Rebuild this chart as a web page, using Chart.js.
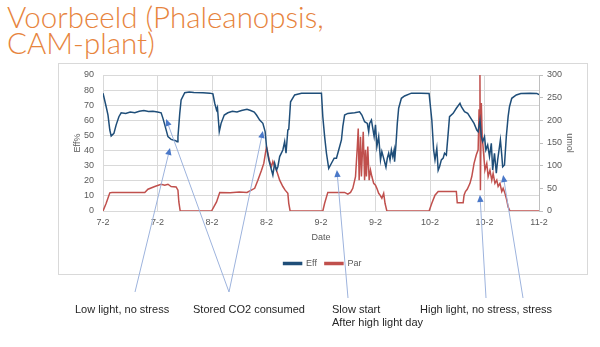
<!DOCTYPE html>
<html><head><meta charset="utf-8">
<script src="https://cdn.jsdelivr.net/npm/chart.js@4"></script>
<style>
html,body{margin:0;padding:0;background:#fff;}
#wrap{position:relative;width:600px;height:347px;overflow:hidden;font-family:"Liberation Sans",Arial,sans-serif;}
#title{position:absolute;left:7px;top:4px;font-family:Lato,"Liberation Sans",sans-serif;font-weight:300;font-size:29.5px;line-height:26px;color:#e7843d;white-space:nowrap;}
#frame{position:absolute;left:58px;top:63px;width:528px;height:210px;border:1px solid #d9d9d9;}
canvas{position:absolute;left:0;top:0;}
.note{position:absolute;font-size:11px;line-height:13px;color:#262626;white-space:nowrap;}
</style></head>
<body><div id="wrap">
<div id="title">Voorbeeld (Phaleanopsis,<br>CAM-plant)</div>
<div id="frame"></div>
<canvas id="c" width="600" height="347"></canvas>
<div class="note" style="left:75px;top:303px">Low light, no stress</div>
<div class="note" style="left:193px;top:303px">Stored CO2 consumed</div>
<div class="note" style="left:332px;top:303px">Slow start<br>After high light day</div>
<div class="note" style="left:420px;top:303px">High light, no stress, stress</div>
</div>
<script>
// ---- data ----
const dateLabels = ["7-2","7-2","8-2","8-2","9-2","9-2","10-2","10-2","11-2"]; // every 12 h
const effHours = [0,0.7,1.1,1.5,1.8,2.4,2.9,3.5,4,5,6,7,8,9,10,11,12,12.8,13.2,13.6,14.3,15,16,16.3,16.5,16.9,17.2,18,19,20,22,23.5,24.2,
 24.6,25,25.2,25.6,26,26.7,27.5,28.5,29.5,30.5,31.7,32.5,33.3,33.8,34.5,35.2,35.7,36,36.5,37.1,37.4,37.8,38.2,38.5,38.9,39.6,40,40.3,40.7,40.9,41.3,42.2,43.7,46,48.1,
 48.4,48.8,49.2,49.7,50.3,50.9,51.4,51.9,52.5,52.8,53.2,53.9,55.4,56.5,57,57.6,58.2,58.5,58.7,59.1,59.4,59.7,60,60.3,60.7,61.1,61.4,61.7,62,62.3,62.6,62.9,63.2,63.5,63.8,64.1,64.2,64.5,64.8,65.1,65.7,66.4,67.9,70,71.8,
 72.4,72.8,73.1,73.5,73.8,74.1,74.5,74.9,75.2,75.6,76,76.3,77.1,77.8,78.6,78.9,79.6,80.3,81,81.7,82.3,82.6,83,83.3,83.6,84,84.3,84.7,85.1,85.5,85.8,86.2,86.6,86.9,87.3,87.5,87.8,88,88.4,88.8,89.2,89.5,90,91,92,94,95.5,96];
const effValues = [78,69,63.5,53.6,49.6,51.4,57,62.4,65,64.5,65.5,65,66,66.5,65.8,66,65.5,65,61.3,57,49.2,47.4,46.5,45.9,49,64.6,73.5,78.3,78.8,78.5,78.3,78,77.5,
 71.3,66.8,68.5,52.5,58,63.5,65,66,65.5,66.5,67.3,66.5,65.5,63.5,60.2,58,52.5,42.6,33.8,27.1,23.8,31.6,27.1,29.3,36,40.4,45.9,38.2,53.6,54,72.3,76.8,77.9,78,78,
 62.4,49.2,38.2,28.2,31.6,34.9,34.9,40.4,47,55.8,63.5,64.6,65,65.7,63.5,59.1,58,52.5,58,60.2,54.7,49.2,57,42.6,49.2,33.8,39.3,36,32.6,29,35,38.2,33.8,40.4,36,40.4,32.6,43.7,58,68,74.6,76.1,78,78,77.8,
 60.2,40.4,33.8,41.5,27,29.3,33.8,35,38.2,37,51.4,62.4,64.6,68,71.3,69,65.7,64.6,61.3,58,53.6,52.5,60.2,49.2,45.9,49.2,40.4,43.7,36,44.8,27.1,38.2,25,33.8,42.6,47,37,29.3,30.5,49.2,62.4,69,74.6,76.8,77.8,77.9,77.8,77];
const parHours = [0,0.7,1.5,2,9.2,9.9,11.4,12.8,13.6,14.3,15,16.1,16.5,16.7,17,23.9,
 25,25.7,28,30,31.7,33.4,34.1,34.9,35.4,36,36.3,36.7,37.1,37.4,37.8,38.2,38.9,39.6,40.1,40.7,40.9,41.2,48.4,
 48.8,49.5,53.2,53.9,54.5,55,55.6,56,56.2,56.4,56.7,56.9,57.3,57.6,57.8,58,58.3,58.6,58.9,59.2,59.6,60,60.3,60.7,61,61.4,61.8,62.1,62.5,71.8,
 72.4,73.1,73.8,77.8,78,79.3,79.5,79.8,80.2,80.8,81.2,81.7,82.2,82.6,82.8,83,83.1,83.3,83.5,83.8,84.1,84.5,84.8,85.2,85.6,85.9,86.3,86.7,87,87.4,87.8,88.1,88.5,88.9,89.2,89.6,96];
const parValues = [0,17,40,41,41,48,54,59,57,59,54,53,46,20,0,0,
 20,41,40,42,41,50,68,90,105,142,127,109,98,109,98,90,68,54,46,39,17,0,0,
 17,41,41,37,41,50,76,142,182,68,164,76,175,68,135,76,142,68,90,76,61,57,50,39,35,28,39,17,0,0,
 17,35,43,43,18,18,35,43,48,61,76,105,124,135,223,300,46,238,164,127,90,105,76,90,68,83,61,68,54,61,43,50,39,24,9,0,0];
const effTicks = [0,90,10];   // min, max, step
const parTicks = [0,300,50];
// annotation arrows: tails in page pixels, tips in data units (hours, Eff%)
const arrowTailX = [135,229,229,348,486,523];
const arrowTailY = [292,292,292,298,298,298];
const arrowTipHour = [14.75,13.9,35.2,51.5,83.0,88.1];
const arrowTipEff = [41.7,60.9,52.9,27.1,10.6,23.8];

const toXY = (xs, ys) => xs.map((x, i) => ({x, y: ys[i]}));
const tickFont = {family: '"Liberation Sans", Arial, sans-serif', size: 9};
const grey = '#595959';

const arrowPlugin = {
  id: 'arrows',
  afterDraw(chart) {
    const ctx = chart.ctx, xs = chart.scales.x, ys = chart.scales.y;
    ctx.save();
    arrowTailX.forEach((tx, i) => {
      const ty = arrowTailY[i];
      const px = xs.getPixelForValue(arrowTipHour[i]);
      const py = ys.getPixelForValue(arrowTipEff[i]);
      const ang = Math.atan2(py - ty, px - tx);
      const hl = 7, hw = 3.2;
      const bx = px - hl * Math.cos(ang), by = py - hl * Math.sin(ang);
      ctx.strokeStyle = '#9db3dd'; ctx.lineWidth = 1;
      ctx.beginPath(); ctx.moveTo(tx, ty); ctx.lineTo(bx, by); ctx.stroke();
      ctx.fillStyle = '#4a78c8';
      ctx.beginPath();
      ctx.moveTo(px, py);
      ctx.lineTo(bx + hw * Math.sin(ang), by - hw * Math.cos(ang));
      ctx.lineTo(bx - hw * Math.sin(ang), by + hw * Math.cos(ang));
      ctx.closePath(); ctx.fill();
    });
    ctx.restore();
  }
};

new Chart(document.getElementById('c'), {
  type: 'line',
  data: {
    datasets: [
      {label: 'Eff', data: toXY(effHours, effValues), yAxisID: 'y', borderColor: '#1f4e79', backgroundColor: '#1f4e79', borderWidth: 1.5, pointRadius: 0, tension: 0},
      {label: 'Par', data: toXY(parHours, parValues), yAxisID: 'y1', borderColor: '#c0504d', backgroundColor: '#c0504d', borderWidth: 1.5, pointRadius: 0, tension: 0}
    ]
  },
  options: {
    responsive: false, animation: false, devicePixelRatio: 1,
    layout: {padding: {left: 58, right: 13, top: 75, bottom: 69}},
    plugins: {
      legend: {position: 'bottom', labels: {boxWidth: 18, boxHeight: 2, font: tickFont, color: grey, padding: 8}},
      tooltip: {enabled: false}
    },
    scales: {
      x: {type: 'linear', min: 0, max: 96,
        afterFit(s) { s.height = 67 - (s.chart.legend ? s.chart.legend.height : 0); },
        ticks: {stepSize: 12, font: tickFont, color: grey, padding: 6, maxRotation: 0,
          callback: v => dateLabels[Math.round(v / 12)]},
        grid: {color: '#d9d9d9', drawTicks: false},
        border: {color: '#d9d9d9'},
        title: {display: true, text: 'Date', font: tickFont, color: grey, padding: {top: 2, bottom: 8}}
      },
      y: {position: 'left', min: effTicks[0], max: effTicks[1],
        afterFit(s) { s.width = 45; },
        ticks: {stepSize: effTicks[2], font: tickFont, color: grey, padding: 9},
        grid: {color: '#d9d9d9', drawTicks: false},
        border: {color: '#d9d9d9'},
        title: {display: true, text: 'Eff%', font: tickFont, color: grey, padding: {top: 14, bottom: 0}}
      },
      y1: {position: 'right', min: parTicks[0], max: parTicks[1],
        afterFit(s) { s.width = 48; },
        ticks: {stepSize: parTicks[2], font: tickFont, color: grey, padding: 4},
        grid: {drawOnChartArea: false, color: '#bfbfbf', tickLength: 4},
        border: {color: '#bfbfbf'},
        title: {display: true, text: 'umol', font: tickFont, color: grey, padding: {top: 12, bottom: 0}}
      }
    }
  },
  plugins: [arrowPlugin]
});
</script>
</body></html>
